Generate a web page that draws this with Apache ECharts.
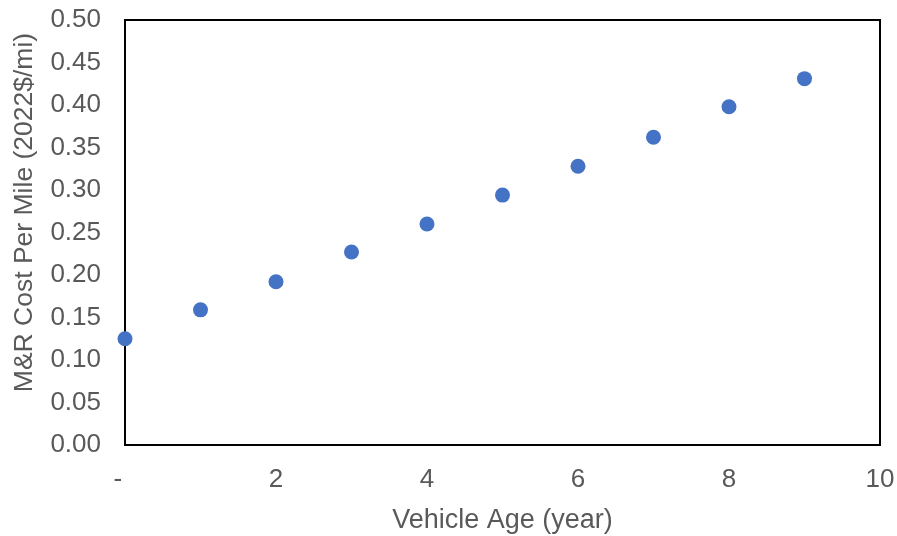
<!DOCTYPE html>
<html>
<head>
<meta charset="utf-8">
<script src="https://cdn.jsdelivr.net/npm/echarts@6/dist/echarts.min.js"></script>
<style>html,body{margin:0;padding:0;background:#fff}#c{width:897px;height:536px}</style>
</head>
<body>
<div id="c"></div>
<script>
const vehicleAge = [0, 1, 2, 3, 4, 5, 6, 7, 8, 9];
const costPerMile = [0.125, 0.159, 0.192, 0.227, 0.260, 0.294, 0.328, 0.362, 0.398, 0.431];
const xAxisTitle = 'Vehicle Age (year)';
const yAxisTitle = 'M&R Cost Per Mile (2022$/mi)';

const chart = echarts.init(document.getElementById('c'));
const font = 'Liberation Sans, Arial, sans-serif';
const textColor = '#595959';
chart.setOption({
  animation: false,
  grid: {left: 125, right: 17, top: 20, bottom: 91, show: true, borderColor: '#000', borderWidth: 2,
    backgroundColor: 'transparent', outerBoundsMode: 'none', containLabel: false},
  xAxis: {
    type: 'value', min: 0, max: 10, interval: 2,
    axisLine: {show: true, lineStyle: {color: '#000', width: 2}},
    axisTick: {show: false},
    splitLine: {show: false},
    axisLabel: {color: textColor, fontSize: 26, fontFamily: font, margin: 22,
      formatter: v => v === 0 ? '-  ' : String(v)},
    name: xAxisTitle, nameLocation: 'middle', nameGap: 62,
    nameTextStyle: {color: textColor, fontSize: 27, fontFamily: font}
  },
  yAxis: {
    type: 'value', min: 0, max: 0.5, interval: 0.05,
    axisLine: {show: true, lineStyle: {color: '#000', width: 2}},
    axisTick: {show: false},
    splitLine: {show: false},
    axisLabel: {color: textColor, fontSize: 26, fontFamily: font, margin: 24,
      formatter: v => v.toFixed(2)},
    name: yAxisTitle, nameLocation: 'middle', nameGap: 87,
    nameTextStyle: {color: textColor, fontSize: 26.5, fontFamily: font, padding: [0, 0, 0, 40]}
  },
  series: [{
    type: 'scatter',
    data: vehicleAge.map((x, i) => [x, costPerMile[i]]),
    symbolSize: 15,
    itemStyle: {color: '#4472C4', opacity: 1}
  }]
});
</script>
</body>
</html>
